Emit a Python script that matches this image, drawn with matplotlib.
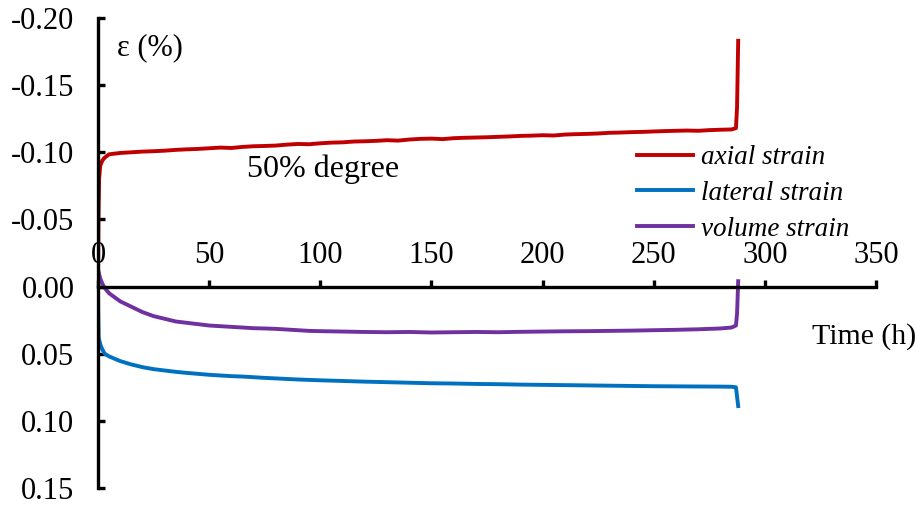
import matplotlib
matplotlib.use("Agg")
import matplotlib.pyplot as plt

plt.rcParams['font.family'] = ['Liberation Serif', 'DejaVu Serif']

# ---- data ----
time_axial = [0, 0.2, 0.5, 1, 2, 3, 5, 10, 15, 20, 25, 30, 35, 40, 45, 50, 55, 60, 65, 70,
              75, 80, 85, 90, 95, 100, 105, 110, 115, 120, 125, 130, 135, 140, 145, 150,
              155, 160, 165, 170, 175, 180, 185, 190, 195, 200, 205, 210, 215, 220, 225,
              230, 235, 240, 245, 250, 255, 260, 265, 270, 275, 280, 285, 287, 287.5, 288]
axial = [0.0, -0.050, -0.080, -0.090, -0.094, -0.096, -0.0985, -0.0995, -0.1000, -0.1005,
         -0.1008, -0.1012, -0.1018, -0.1022, -0.1025, -0.1030, -0.1035, -0.1032, -0.1040,
         -0.1045, -0.1047, -0.1050, -0.1057, -0.1062, -0.1060, -0.1067, -0.1072, -0.1074,
         -0.1080, -0.1082, -0.1085, -0.1090, -0.1087, -0.1095, -0.1100, -0.1102, -0.1098,
         -0.1105, -0.1108, -0.1110, -0.1112, -0.1115, -0.1118, -0.1122, -0.1124, -0.1127,
         -0.1125, -0.1132, -0.1135, -0.1137, -0.1140, -0.1145, -0.1147, -0.1150, -0.1152,
         -0.1155, -0.1158, -0.1160, -0.1162, -0.1160, -0.1165, -0.1168, -0.1170, -0.1180,
         -0.1340, -0.1830]

time_lateral = [0, 0.1, 0.3, 1, 2, 3, 5, 10, 15, 20, 25, 30, 35, 40, 45, 50, 55, 60, 65, 70,
                75, 80, 85, 90, 95, 100, 110, 120, 130, 140, 150, 160, 170, 180, 190, 200,
                210, 220, 230, 240, 250, 260, 270, 280, 285, 287, 288]
lateral = [0.0, 0.020, 0.038, 0.043, 0.047, 0.050, 0.052, 0.0555, 0.0580, 0.0600, 0.0615,
           0.0625, 0.0635, 0.0643, 0.0650, 0.0657, 0.0662, 0.0667, 0.0670, 0.0675, 0.0680,
           0.0684, 0.0688, 0.0692, 0.0695, 0.0698, 0.0703, 0.0708, 0.0712, 0.0716, 0.0720,
           0.0722, 0.0725, 0.0727, 0.0730, 0.0732, 0.0734, 0.0736, 0.0738, 0.0740, 0.0742,
           0.0743, 0.0744, 0.0745, 0.0746, 0.0750, 0.0890]

time_volume = [0, 1, 2, 3, 5, 10, 15, 20, 25, 30, 35, 40, 45, 50, 55, 60, 65, 70, 75, 80, 85,
               90, 95, 100, 110, 120, 130, 140, 150, 160, 170, 180, 190, 200, 210, 220, 230,
               240, 250, 260, 270, 280, 285, 287, 287.5, 288]
volume = [-0.0125, -0.006, -0.002, 0.001, 0.005, 0.011, 0.015, 0.019, 0.022, 0.024, 0.026,
          0.027, 0.028, 0.029, 0.0295, 0.030, 0.0305, 0.031, 0.0312, 0.0315, 0.032, 0.0325,
          0.033, 0.0332, 0.0335, 0.0338, 0.0340, 0.0338, 0.0342, 0.0340, 0.0338, 0.0340,
          0.0337, 0.0335, 0.0333, 0.0332, 0.0330, 0.0328, 0.0325, 0.0322, 0.0318, 0.0312,
          0.0305, 0.0290, 0.0200, -0.0040]

x_ticks = [0, 50, 100, 150, 200, 250, 300, 350]
y_ticks = [-0.20, -0.15, -0.10, -0.05, 0.00, 0.05, 0.10, 0.15]
y_tick_labels = ["-0.20", "-0.15", "-0.10", "-0.05", "0.00", "0.05", "0.10", "0.15"]

# ---- figure ----
fig = plt.figure(figsize=(9.17, 5.05), dpi=100)
ax = fig.add_axes([98 / 917, 1 - 488 / 505, (876 - 98) / 917, (488 - 18) / 505])

lw = 2.8
ax.plot(time_axial, axial, color='#C00000', lw=lw, label='axial strain', solid_joinstyle='round')
ax.plot(time_lateral, lateral, color='#0070C0', lw=lw, label='lateral strain', solid_joinstyle='round')
ax.plot(time_volume, volume, color='#7030A0', lw=lw, label='volume strain', solid_joinstyle='round')

ax.set_xlim(0, 350)
ax.set_ylim(0.15, -0.20)

for s in ['right', 'bottom']:
    ax.spines[s].set_visible(False)
ax.spines['top'].set_position(('data', 0))
ax.spines['top'].set_linewidth(2.4)
ax.spines['left'].set_linewidth(2.4)

ax.xaxis.tick_top()
ax.set_xticks(x_ticks)
ax.set_xticklabels([str(v) for v in x_ticks])
ax.tick_params(axis='x', direction='out', length=5, width=2.4, labelsize=22, pad=7)

ax.set_yticks(y_ticks)
ax.set_yticklabels(y_tick_labels)
ax.tick_params(axis='y', direction='in', length=5, width=2.4, labelsize=22, pad=17)

ax.text(8.5, -0.178, 'ε (%)', fontsize=22, va='center', ha='left')
ax.text(67, -0.087, '50% degree', fontsize=23, va='center', ha='left')
ax.text(321, 0.037, 'Time (h)', fontsize=21.5, va='center', ha='left', clip_on=False)

leg = ax.legend(loc='upper left', bbox_to_anchor=((637 - 98) / 778, 1 - (145 - 18) / 470),
                frameon=False, prop={'style': 'italic', 'size': 19.5},
                handlelength=2.05, handletextpad=0.3, labelspacing=0.4, borderaxespad=0, borderpad=0)

fig.savefig('out.png', dpi=100)
